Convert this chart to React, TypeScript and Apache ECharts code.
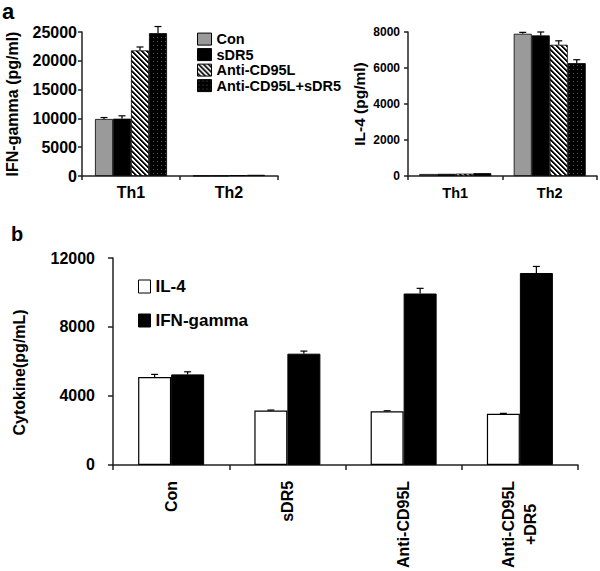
import React, { useEffect, useRef } from 'react';
import * as echarts from 'echarts';

// ---------- data ----------
const thCategories = ['Th1', 'Th2'];
const treatments = ['Con', 'sDR5', 'Anti-CD95L', 'Anti-CD95L+sDR5'];
// IFN-gamma (pg/ml), per treatment: [Th1, Th2]
const ifnCon = [9900, 50];
const ifnSdr5 = [9950, 60];
const ifnAnti = [21800, 150];
const ifnCombo = [24800, 200];
const ifnConErr = [250, 0];
const ifnSdr5Err = [500, 0];
const ifnAntiErr = [600, 0];
const ifnComboErr = [1150, 0];
// IL-4 (pg/ml), per treatment: [Th1, Th2]
const il4Con = [110, 7900];
const il4Sdr5 = [120, 7810];
const il4Anti = [130, 7290];
const il4Combo = [160, 6270];
const il4ConErr = [0, 80];
const il4Sdr5Err = [0, 190];
const il4AntiErr = [0, 220];
const il4ComboErr = [0, 190];
// panel b
const bCategories = ['Con', 'sDR5', 'Anti-CD95L', 'Anti-CD95L\n+DR5'];
const bSeriesNames = ['IL-4', 'IFN-gamma'];
const bIL4 = [5100, 3150, 3110, 2960];
const bIL4Err = [150, 30, 30, 30];
const bIFN = [5250, 6450, 9940, 11130];
const bIFNErr = [150, 150, 300, 380];
// axis ticks
const aLeftTicks = { min: 0, max: 25000, interval: 5000 };
const aRightTicks = { min: 0, max: 8000, interval: 2000 };
const bTicks = { min: 0, max: 12000, interval: 4000 };

const FONT = '"Liberation Sans", Arial, Helvetica, sans-serif';
const INK = '#000';

function makeHatch(): HTMLCanvasElement {
  const c = document.createElement('canvas');
  c.width = 10;
  c.height = 10;
  const ctx = c.getContext('2d')!;
  const img = ctx.createImageData(10, 10);
  for (let y = 0; y < 10; y++) {
    for (let x = 0; x < 10; x++) {
      const m = (((x - y) % 5) + 5) % 5;
      const v = m < 2 ? 10 : m === 2 ? 120 : 255;
      const i = (y * 10 + x) * 4;
      img.data[i] = v;
      img.data[i + 1] = v;
      img.data[i + 2] = v;
      img.data[i + 3] = 255;
    }
  }
  ctx.putImageData(img, 0, 0);
  return c;
}

function makeDots(): HTMLCanvasElement {
  const c = document.createElement('canvas');
  c.width = 4;
  c.height = 4;
  const ctx = c.getContext('2d')!;
  ctx.fillStyle = '#000';
  ctx.fillRect(0, 0, 4, 4);
  ctx.fillStyle = '#5a5a5a';
  ctx.fillRect(1, 1, 1, 1);
  return c;
}

function errorRenderer(barWidth: number, nSeries: number) {
  return (params: any, api: any) => {
    const cat = api.value(0);
    const val = api.value(1);
    const err = api.value(2);
    const s = api.value(3);
    if (!err) return null;
    const base = api.coord([cat, val]);
    const top = api.coord([cat, val + err]);
    const x = base[0] + (s - (nSeries - 1) / 2) * barWidth;
    const half = 3.5;
    return {
      type: 'group',
      children: [
        { type: 'line', shape: { x1: x, y1: base[1], x2: x, y2: top[1] }, style: { stroke: '#000', lineWidth: 1.2 } },
        { type: 'line', shape: { x1: x - half, y1: top[1], x2: x + half, y2: top[1] }, style: { stroke: '#000', lineWidth: 1.2 } },
      ],
    };
  };
}

export default function App() {
  const ref = useRef<HTMLDivElement>(null);
  useEffect(() => {
    document.body.style.margin = '0';
    const chart = echarts.init(ref.current!, null, { renderer: 'svg' });
    const hatch = { image: makeHatch(), repeat: 'repeat' };
    const dots = { image: makeDots(), repeat: 'repeat' };
    const fills: any[] = ['#9a9a9a', '#000', hatch, dots];

    const ifnData = [ifnCon, ifnSdr5, ifnAnti, ifnCombo];
    const ifnErr = [ifnConErr, ifnSdr5Err, ifnAntiErr, ifnComboErr];
    const il4Data = [il4Con, il4Sdr5, il4Anti, il4Combo];
    const il4Err = [il4ConErr, il4Sdr5Err, il4AntiErr, il4ComboErr];

    const axisLine = { show: true, lineStyle: { color: '#222', width: 1.5 } };
    const yBase = (ticks: any, fontSize: number, margin: number, tickLen: number, nameSize: number) => ({
      type: 'value',
      min: ticks.min,
      max: ticks.max,
      interval: ticks.interval,
      axisLine,
      axisTick: { show: true, length: tickLen, lineStyle: { color: '#222', width: 1.5 } },
      splitLine: { show: false },
      axisLabel: { fontFamily: FONT, fontWeight: 'bold', fontSize, color: INK, margin, formatter: (v: number) => String(v) },
      nameLocation: 'middle',
      nameRotate: 90,
      nameTextStyle: { fontFamily: FONT, fontWeight: 'bold', fontSize: nameSize, color: INK },
    });

    const series: any[] = [];
    treatments.forEach((t, i) => {
      series.push({
        type: 'bar', name: t, xAxisIndex: 0, yAxisIndex: 0, data: ifnData[i],
        barWidth: 18, barGap: '0%',
        itemStyle: { color: fills[i], borderColor: '#000', borderWidth: 0.8 },
      });
    });
    treatments.forEach((t, i) => {
      series.push({
        type: 'bar', name: t, xAxisIndex: 1, yAxisIndex: 1, data: il4Data[i],
        barWidth: 18, barGap: '0%',
        itemStyle: { color: fills[i], borderColor: '#000', borderWidth: 0.8 },
      });
    });
    const errA: any[] = [];
    const errA2: any[] = [];
    treatments.forEach((_, s) => {
      thCategories.forEach((_, c) => {
        errA.push([c, ifnData[s][c], ifnErr[s][c], s]);
        errA2.push([c, il4Data[s][c], il4Err[s][c], s]);
      });
    });
    series.push({ type: 'custom', xAxisIndex: 0, yAxisIndex: 0, data: errA, encode: { x: 0, y: 1 }, renderItem: errorRenderer(18, 4), z: 5 });
    series.push({ type: 'custom', xAxisIndex: 1, yAxisIndex: 1, data: errA2, encode: { x: 0, y: 1 }, renderItem: errorRenderer(18, 4), z: 5 });

    series.push({
      type: 'bar', name: bSeriesNames[0], xAxisIndex: 2, yAxisIndex: 2, data: bIL4,
      barWidth: 33, barGap: '0%',
      itemStyle: { color: '#fff', borderColor: '#000', borderWidth: 1.2 },
    });
    series.push({
      type: 'bar', name: bSeriesNames[1], xAxisIndex: 2, yAxisIndex: 2, data: bIFN,
      barWidth: 33, barGap: '0%',
      itemStyle: { color: '#000', borderColor: '#000', borderWidth: 1 },
    });
    const errB: any[] = [];
    bCategories.forEach((_, c) => {
      errB.push([c, bIL4[c], bIL4Err[c], 0]);
      errB.push([c, bIFN[c], bIFNErr[c], 1]);
    });
    series.push({ type: 'custom', xAxisIndex: 2, yAxisIndex: 2, data: errB, encode: { x: 0, y: 1 }, renderItem: errorRenderer(33, 2), z: 5 });

    const option: any = {
      animation: false,
      backgroundColor: '#fff',
      grid: [
        { left: 82, top: 32, width: 196, height: 144 },
        { left: 408, top: 32, width: 189, height: 144 },
        { left: 113, top: 258, width: 465, height: 212 },
      ],
      xAxis: [
        {
          type: 'category', gridIndex: 0, data: thCategories, axisLine,
          axisTick: { show: true, length: 4, lineStyle: { color: '#222', width: 1.5 } },
          axisLabel: { fontFamily: FONT, fontWeight: 'bold', fontSize: 16, color: INK, margin: 8 },
        },
        {
          type: 'category', gridIndex: 1, data: thCategories, axisLine,
          axisTick: { show: true, length: 4, lineStyle: { color: '#222', width: 1.5 } },
          axisLabel: { fontFamily: FONT, fontWeight: 'bold', fontSize: 14.5, color: INK, margin: 9 },
        },
        {
          type: 'category', gridIndex: 2, data: bCategories, axisLine,
          axisTick: { show: true, length: 5, lineStyle: { color: '#222', width: 1.5 } },
          axisLabel: {
            rotate: 90, margin: 16, color: INK,
            formatter: (v: string) => v.split('\n').map((s) => `{c|${s}}`).join('\n'),
            rich: { c: { align: 'center', fontFamily: FONT, fontWeight: 'bold', fontSize: 16, color: INK, lineHeight: 22 } },
          },
        },
      ],
      yAxis: [
        { ...yBase(aLeftTicks, 16, 5, 4, 16), gridIndex: 0, name: 'IFN-gamma (pg/ml)', nameGap: 62 },
        { ...yBase(aRightTicks, 12, 8, 4, 15.5), gridIndex: 1, name: 'IL-4 (pg/ml)', nameGap: 41 },
        {
          ...yBase(bTicks, 16, 18, 5, 16), gridIndex: 2, name: 'Cytokine(pg/mL)', nameGap: 86,
          nameTextStyle: { fontFamily: FONT, fontWeight: 'bold', fontSize: 16, color: INK, padding: [0, 22, 0, 0] },
        },
      ],
      legend: [
        {
          data: treatments, orient: 'vertical', left: 192, top: 26.6,
          itemWidth: 14, itemHeight: 12, itemGap: 0.5, selectedMode: false,
          icon: 'rect',
          itemStyle: { borderColor: '#000', borderWidth: 1 },
          textStyle: { fontFamily: FONT, fontWeight: 'bold', fontSize: 14.5, color: INK, lineHeight: 12.8 },
        },
        {
          data: bSeriesNames, orient: 'vertical', left: 133, top: 273,
          itemWidth: 12, itemHeight: 13, itemGap: 17, selectedMode: false,
          icon: 'rect',
          itemStyle: { borderColor: '#000', borderWidth: 1 },
          textStyle: { fontFamily: FONT, fontWeight: 'bold', fontSize: 17, color: INK, lineHeight: 13 },
        },
      ],
      graphic: [
        { type: 'text', left: 2, top: 0, style: { text: 'a', fontFamily: FONT, fontWeight: 'bold', fontSize: 22, fill: '#000' } },
        { type: 'text', left: 11, top: 224, style: { text: 'b', fontFamily: FONT, fontWeight: 'bold', fontSize: 20, fill: '#000' } },
      ],
      series,
    };
    chart.setOption(option);
    return () => chart.dispose();
  }, []);
  return <div ref={ref} style={{ position: 'absolute', left: 0, top: 0, width: 600, height: 571 }} />;
}
